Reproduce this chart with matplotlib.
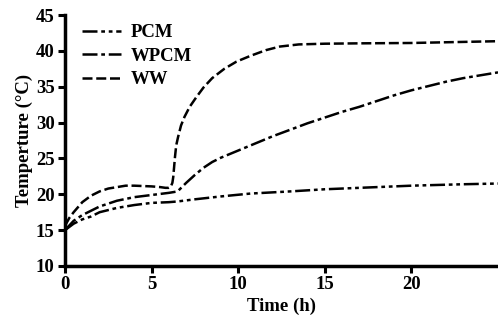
import numpy as np
import matplotlib
matplotlib.use('Agg')
import matplotlib.pyplot as plt

plt.rcParams['font.family'] = ['Liberation Serif', 'DejaVu Serif']
plt.rcParams['font.weight'] = 'bold'

# PCM (bottom curve)
t_pcm = [0, 0.5, 1, 1.5, 2, 3, 4, 5, 6, 6.5, 7.5, 9, 10.7, 13, 15, 17, 20, 23, 25]
temp_pcm = [15.0, 15.9, 16.5, 16.9, 17.5, 18.1, 18.5, 18.8, 18.9, 19.0, 19.3, 19.7, 20.1, 20.4, 20.7, 20.9, 21.2, 21.4, 21.5]

# WPCM (middle curve)
t_wpcm = [0, 0.5, 1, 1.5, 2, 3, 4, 5, 6, 6.5, 7, 7.5, 8, 8.5, 9, 10, 11, 12, 13, 14, 15,
          16, 17, 18, 19, 20, 21, 22, 23, 24, 25]
temp_wpcm = [15.0, 16.3, 17.1, 17.7, 18.3, 19.1, 19.6, 19.9, 20.2, 20.4, 21.6, 22.7, 23.7, 24.5, 25.1,
             26.1, 27.1, 28.1, 29.0, 29.9, 30.7, 31.5, 32.2, 33.0, 33.8, 34.5, 35.1, 35.7, 36.2, 36.6, 37.0]

# WW (top curve)
t_ww = [0, 0.25, 0.5, 1, 1.5, 2, 2.5, 3, 3.5, 4, 4.5, 5, 5.5, 5.8, 6.0, 6.1, 6.2, 6.25, 6.3, 6.35,
        6.42, 6.53, 6.7, 6.9, 7.2, 7.6, 8.0, 8.5, 9.2, 9.9, 10.7, 11.6, 12.4, 13.5, 15, 17, 20, 23, 25]
temp_ww = [15.6, 16.7, 17.5, 18.9, 19.8, 20.4, 20.8, 21.0, 21.2, 21.2, 21.15, 21.1, 21.0, 20.9, 20.9, 21.0,
           21.6, 22.4, 23.8, 25.2, 26.8, 28.0, 29.6, 30.8, 32.2, 33.6, 34.9, 36.2, 37.5, 38.5, 39.3,
           40.1, 40.6, 40.9, 41.0, 41.05, 41.1, 41.25, 41.35]

fig = plt.figure(figsize=(4.98, 3.23), dpi=100)
ax = fig.add_axes([0.1305, 0.1765, 0.8695, 0.777])

ax.plot(t_pcm, temp_pcm, color='black', lw=1.8, ls=(0, (6, 1.5, 1.5, 1.5, 1.5, 1.5)), label='PCM')
ax.plot(t_wpcm, temp_wpcm, color='black', lw=1.8, ls=(0, (6, 1.5, 1.5, 1.5)), label='WPCM')
ax.plot(t_ww, temp_ww, color='black', lw=1.8, ls=(0, (4, 1.5)), label='WW')

ax.set_xlim(0, 25)
ax.set_ylim(10, 45)
ax.set_xticks([0, 5, 10, 15, 20])
ax.set_yticks([10, 15, 20, 25, 30, 35, 40, 45])
ax.spines['top'].set_visible(False)
ax.spines['right'].set_visible(False)
ax.spines['left'].set_linewidth(2.5)
ax.spines['bottom'].set_linewidth(2.5)
ax.tick_params(direction='out', length=5, width=2.2, labelsize=13.5, pad=2.5)
ax.set_xlabel('Time (h)', fontsize=13.5, fontweight='bold', labelpad=3)
ax.set_ylabel('Temperture (°C)', fontsize=13.5, fontweight='bold', labelpad=2)

ax.legend(loc='upper left', frameon=False, fontsize=13.5, handlelength=2.1,
          handletextpad=0.5, labelspacing=0.33, bbox_to_anchor=(0.0, 1.03))

fig.savefig('out.png', dpi=100)
